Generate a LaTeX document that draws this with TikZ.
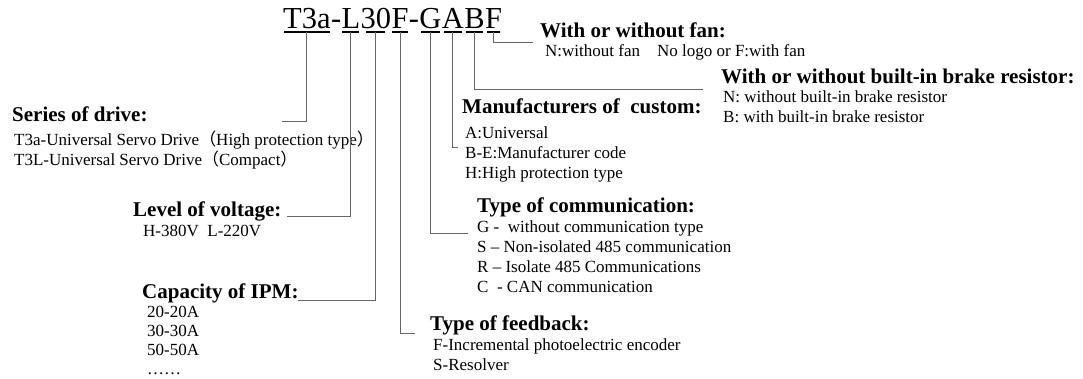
\documentclass[tikz,border=0pt]{standalone}
\usepackage{fontspec}
\setmainfont{Liberation Serif}
\newfontfamily\cjk{Noto Sans CJK SC}
\usepackage{tikz}
\usetikzlibrary{positioning}
\tikzstyle{code} = [inner sep=0pt, text depth=0pt, anchor=base west, font=\fontsize{30.5}{30.5}\selectfont]
\tikzstyle{head} = [inner sep=0pt, anchor=base west, font=\fontsize{21}{21}\selectfont\bfseries]
\tikzstyle{items} = [inner sep=0pt, anchor=north west, align=left, font=\fontsize{17}{20}\selectfont]
\tikzstyle{uline} = [line width=1.3pt]
\tikzstyle{link} = [draw=black!60, line width=0.9pt]

\begin{document}
\begin{tikzpicture}[x=1pt, y=-1pt]
				\useasboundingbox (0,0) rectangle (1083,378);
				
				% Nodes for model code
				\node (ser) [code] at (283,28.5) {T3a};
				\node (d1) [code] at (ser.base east) {-};
				\node (volt) [code] at (d1.base east) {L};
				\node (cap) [code] at (volt.base east) {30};
				\node (fb) [code] at (cap.base east) {F};
				\node (d2) [code] at (fb.base east) {-};
				\node (comm) [code] at (d2.base east) {G};
				\node (manuf) [code] at (comm.base east) {A};
				\node (brake) [code] at (manuf.base east) {B};
				\node (fan) [code] at (brake.base east) {F};
				
				% Underlines
				\foreach \n/\g in {ser/1,volt/1,cap/6,fb/1,comm/2,manuf/2,brake/2,fan/2}
					\draw [uline] ([xshift=\g pt,yshift=-3.5pt]\n.base west) -- ([xshift=-\g pt,yshift=-3.5pt]\n.base east);
				
				% Nodes for left side
				\node (serhead) [head] at (12,121) {Series of drive:};
				\node (serlist) [items, below right=10pt and 2pt of serhead.base west] {T3a-Universal Servo Drive{\cjk（}High protection type{\cjk）}\\T3L-Universal Servo Drive{\cjk（}Compact{\cjk）}};
				\node (volthead) [head] at (133,216) {Level of voltage:};
				\node (voltlist) [items, below right=9pt and 10pt of volthead.base west] {H-380V~ L-220V};
				\node (caphead) [head] at (142,298) {Capacity of IPM:};
				\node (caplist) [items, below right=8pt and 5pt of caphead.base west, font=\fontsize{17}{19}\selectfont] {20-20A\\30-30A\\50-50A\\……};
				
				% Nodes for right side
				\node (fbhead) [head] at (430,330) {Type of feedback:};
				\node (fblist) [items, below right=8pt and 3pt of fbhead.base west] {F-Incremental photoelectric encoder\\S-Resolver};
				\node (commhead) [head] at (477,212) {Type of communication:};
				\node (commlist) [items, below right=8pt and 0pt of commhead.base west] {G -~ without communication type\\S -- Non-isolated 485 communication\\R -- Isolate 485 Communications\\C~ - CAN communication};
				\node (manufhead) [head] at (462,113) {Manufacturers of~ custom:};
				\node (manuflist) [items, below right=13pt and 3pt of manufhead.base west] {A:Universal\\B-E:Manufacturer code\\H:High protection type};
				\node (brakehead) [head] at (721,83) {With or without built-in brake resistor:};
				\node (brakelist) [items, below right=8pt and 2pt of brakehead.base west] {N: without built-in brake resistor\\B: with built-in brake resistor};
				\node (fanhead) [head] at (540,37) {With or without fan:};
				\node (fanlist) [items, below right=7pt and 5pt of fanhead.base west] {N:without fan\quad{}No logo or F:with fan};
				
				% Line ends
				\coordinate (serend) at (282,121);
				\coordinate (voltend) at (287,216);
				\coordinate (capend) at (298,300);
				\coordinate (fbend) at (415,333);
				\coordinate (commend) at (468,233);
				\coordinate (manufend) at (458,147);
				\coordinate (brakeend) at (703,89);
				\coordinate (fanend) at (533,42);
				
				% Lines from code to labels
				\foreach \n in {ser,volt,cap,fb,comm,manuf,brake,fan}
					\draw [link] ([yshift=-3.5pt]\n.base) |- (\n end);
				
			\end{tikzpicture}
\end{document}
